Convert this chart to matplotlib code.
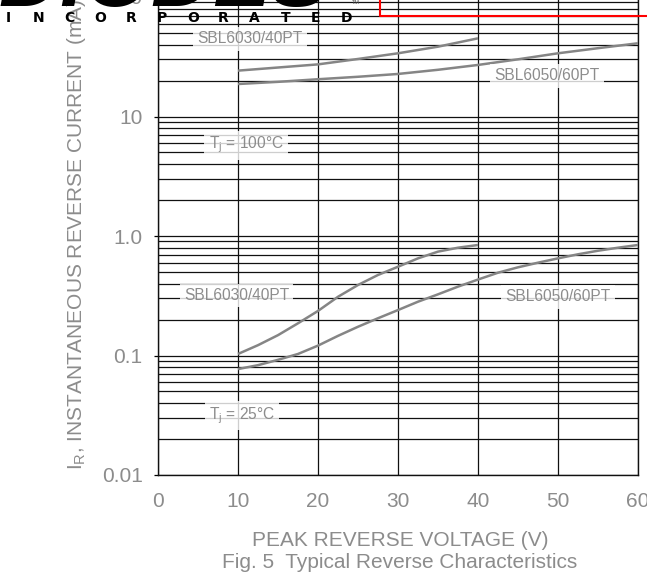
import matplotlib
matplotlib.use('Agg')
import matplotlib.pyplot as plt
from matplotlib.ticker import FixedLocator, LogLocator, NullFormatter

plt.rcParams['font.family'] = ['Liberation Sans', 'DejaVu Sans']
plt.rcParams['mathtext.fontset'] = 'custom'
plt.rcParams['mathtext.rm'] = 'Liberation Sans'
plt.rcParams['mathtext.default'] = 'regular'

# Tj = 100C curves (mA)
v_hot_3040 = [10, 15, 20, 25, 30, 35, 40]
ir_hot_3040 = [24.2, 25.7, 27.3, 30.3, 33.8, 38.4, 45.1]
v_hot_5060 = [10, 15, 20, 25, 30, 35, 40, 45, 50, 55, 60]
ir_hot_5060 = [18.7, 19.5, 20.5, 21.5, 22.7, 24.6, 27.0, 30.1, 33.8, 37.3, 41.0]

# Tj = 25C curves (mA)
v_cold_3040 = [10, 12.5, 15, 17.5, 20, 22.5, 25, 27.5, 30, 32.5, 35, 37.5, 40]
ir_cold_3040 = [0.103, 0.122, 0.148, 0.186, 0.236, 0.310, 0.389, 0.472,
                0.553, 0.650, 0.740, 0.798, 0.841]
v_cold_5060 = [10, 12.5, 15, 17.5, 20, 22.5, 25, 27.5, 30, 32.5, 35, 37.5,
               40, 42.5, 45, 47.5, 50, 52.5, 55, 57.5, 60]
ir_cold_5060 = [0.077, 0.083, 0.092, 0.103, 0.121, 0.146, 0.174, 0.205,
                0.240, 0.282, 0.325, 0.377, 0.432, 0.493, 0.547, 0.598,
                0.650, 0.703, 0.753, 0.798, 0.841]

x_ticks = [0, 10, 20, 30, 40, 50, 60]
y_ticks = [0.01, 0.1, 1.0, 10, 100]
y_tick_labels = ['0.01', '0.1', '1.0', '10', '100']

gray = '#8c8c8c'
curve_gray = '#858585'

W, H = 647, 575
fig = plt.figure(figsize=(W / 100, H / 100), dpi=100)
ax = fig.add_axes([158 / W, 1 - 475 / H, 480 / W, 478 / H])

ax.set_yscale('log')
ax.set_xlim(0, 60)
ax.set_ylim(0.01, 100)

for xs, ys in [(v_hot_3040, ir_hot_3040), (v_hot_5060, ir_hot_5060),
               (v_cold_3040, ir_cold_3040), (v_cold_5060, ir_cold_5060)]:
    ax.plot(xs, ys, color=curve_gray, lw=1.8, zorder=3,
            solid_joinstyle='round', solid_capstyle='butt')

ax.xaxis.set_major_locator(FixedLocator(x_ticks))
ax.set_xticklabels([str(t) for t in x_ticks])
ax.yaxis.set_major_locator(FixedLocator(y_ticks))
ax.set_yticklabels(y_tick_labels)
ax.yaxis.set_minor_locator(LogLocator(base=10, subs=range(2, 10)))
ax.yaxis.set_minor_formatter(NullFormatter())

ax.grid(True, which='major', axis='x', color='#111111', lw=0.9)
ax.grid(True, which='both', axis='y', color='#111111', lw=0.9)
ax.tick_params(axis='x', length=0, pad=12, labelsize=15, labelcolor=gray)
ax.tick_params(axis='y', which='major', length=3, width=0.9, pad=8,
               labelsize=15, labelcolor=gray)
ax.tick_params(axis='y', which='minor', length=0)
for s in ax.spines.values():
    s.set_color('#111111')
    s.set_linewidth(1.0)

box = dict(facecolor='white', edgecolor='none', alpha=0.8, pad=3)
lab = dict(color=gray, fontsize=11.2, ha='center', va='center', bbox=box, zorder=4)
ax.text(11.5, 10 ** 1.65, 'SBL6030/40PT', **lab)
ax.text(48.6, 10 ** 1.34, 'SBL6050/60PT', **lab)
ax.text(11, 10 ** 0.76, r'T$_j$ = 100°C', **lab)
ax.text(9.8, 10 ** -0.5, 'SBL6030/40PT', **lab)
ax.text(50, 10 ** -0.51, 'SBL6050/60PT', **lab)
ax.text(10.5, 10 ** -1.5, r'T$_j$ = 25°C', **lab)

fig.text(77 / W, 1 - 470 / H, r'I$_R$, INSTANTANEOUS REVERSE CURRENT (mA)',
         rotation=90, ha='center', va='bottom', color=gray, fontsize=15)
fig.text(400 / W, 1 - 540 / H, 'PEAK REVERSE VOLTAGE (V)',
         ha='center', va='center', color=gray, fontsize=15)
fig.text(400 / W, 1 - 563 / H, 'Fig. 5  Typical Reverse Characteristics',
         ha='center', va='center', color=gray, fontsize=15)

# logo remains at the top
fig.text(-2 / W, 1 - 6 / H, 'DIODES', ha='left', va='baseline', color='black',
         fontsize=62, fontweight='bold', fontstyle='italic')
for i, ch in enumerate('INCORPORATED'):
    fig.text((8 + 30.8 * i) / W, 1 - 18 / H, ch, ha='center', va='center',
             color='black', fontsize=10, fontweight='heavy',
             family=['DejaVu Sans'])
fig.text(356 / W, 1 - 3 / H, 'TM', ha='center', va='center', color='#555555',
         fontsize=4)
fig.add_artist(plt.Line2D([380 / W, 380 / W, 1.0], [1.0, 1 - 16 / H, 1 - 16 / H],
                          color='red', lw=1.5))

fig.savefig('out.png', dpi=100)
